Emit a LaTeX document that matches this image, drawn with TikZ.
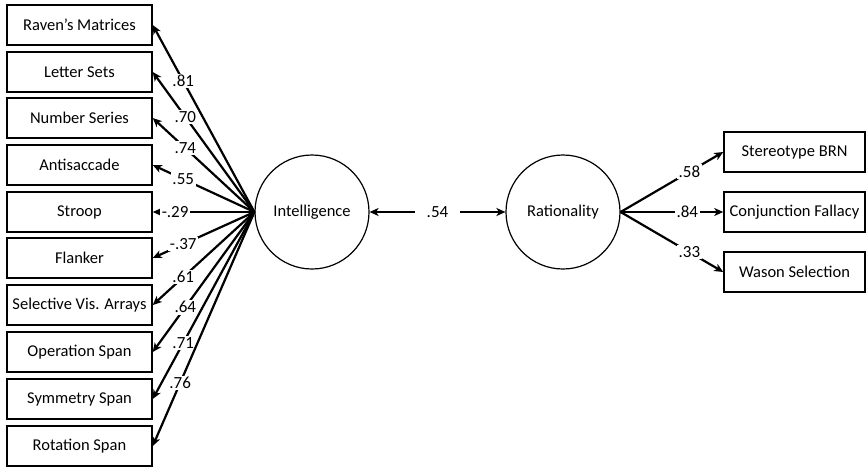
\documentclass[tikz,border=0pt]{standalone}
\usepackage{fontspec}
\setmainfont{Carlito}
\usetikzlibrary{arrows.meta}
\begin{document}
\begin{tikzpicture}[x=1pt,y=-1pt,
  box/.style={draw, line width=1.5pt, minimum width=145pt, minimum height=40pt, inner sep=0pt, font=\fontsize{16.5}{18}\selectfont},
  rbox/.style={box, minimum width=141pt},
  lat/.style={draw, circle, line width=1.2pt, minimum size=114pt, inner sep=0pt, font=\fontsize{16.5}{18}\selectfont},
  tip/.style={Stealth[length=9pt,width=8pt,inset=2.5pt]},
  load/.style={line width=2.2pt, -{Stealth[length=9pt,width=8pt,inset=2.5pt]}},
  lab/.style={fill=white, inner sep=1.5pt, font=\fontsize{17}{18}\selectfont}]
\useasboundingbox (0,0) rectangle (866,467);
% left indicators
\node[box] (rav) at (79.5,25) {Raven’s Matrices};
\node[box] (let) at (79.5,72) {Letter Sets};
\node[box] (num) at (79.5,118) {Number Series};
\node[box] (ant) at (79.5,165) {Antisaccade};
\node[box] (str) at (79.5,212) {Stroop};
\node[box] (fla) at (79.5,258) {Flanker};
\node[box] (sel) at (79.5,305) {Selective Vis. Arrays};
\node[box] (ope) at (79.5,352) {Operation Span};
\node[box] (sym) at (79.5,399) {Symmetry Span};
\node[box] (rot) at (79.5,446) {Rotation Span};
% latent variables
\node[lat] (int) at (312,212) {Intelligence};
\node[lat] (rat) at (563,212) {Rationality};
% right indicators
\node[rbox] (ste) at (794.5,152) {Stereotype BRN};
\node[rbox] (con) at (794.5,212) {Conjunction Fallacy};
\node[rbox] (was) at (794.5,272) {Wason Selection};
\coordinate (fl) at (int.west);
\coordinate (fr) at (rat.east);
% loadings
\draw[load] (fl) -- node[lab,pos=0.7]{.81} (rav.east);
\draw[load] (fl) -- node[lab,pos=0.68]{.70} (let.east);
\draw[load] (fl) -- node[lab,pos=0.68]{.74} (num.east);
\draw[load] (fl) -- node[lab,pos=0.7]{.55} (ant.east);
\draw[load] (fl) -- node[lab,pos=0.78]{-.29} (str.east);
\draw[load] (fl) -- node[lab,pos=0.7]{-.37} (fla.east);
\draw[load] (fl) -- node[lab,pos=0.7]{.61} (sel.east);
\draw[load] (fl) -- node[lab,pos=0.68]{.64} (ope.east);
\draw[load] (fl) -- node[lab,pos=0.7]{.71} (sym.east);
\draw[load] (fl) -- node[lab,pos=0.73]{.76} (rot.east);
\draw[load] (fr) -- node[lab,pos=0.67]{.58} (ste.west);
\draw[load] (fr) -- node[lab,pos=0.65]{.84} (con.west);
\draw[load] (fr) -- node[lab,pos=0.67]{.33} (was.west);
\draw[line width=2.2pt, {Stealth[length=9pt,width=8pt,inset=2.5pt]}-{Stealth[length=9pt,width=8pt,inset=2.5pt]}] (int) -- node[lab, inner xsep=12pt]{.54} (rat);
\end{tikzpicture}
\end{document}
